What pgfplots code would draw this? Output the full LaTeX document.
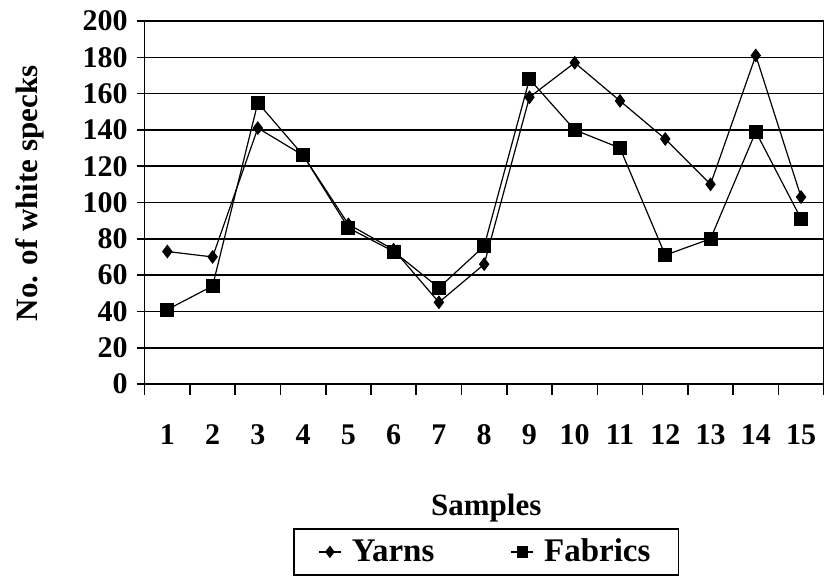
\documentclass[border=0pt]{standalone}
\usepackage{fontspec}
\setmainfont{Liberation Serif}
\usepackage{pgfplots}
\pgfplotsset{compat=1.18}
\begin{document}
\begin{tikzpicture}
\begin{axis}[
  at={(0,0)}, anchor=south west,
  scale only axis=true,
  width=339.5pt, height=181.5pt,
  xmin=0.5, xmax=15.5,
  ymin=0, ymax=200,
  ytick={0,20,...,200},
  xtick={1,...,15},
  major x tick style={draw=none},
  minor xtick={0.5,1.5,...,15.5},
  tick align=outside,
  tick pos=left,
  major tick length=4pt,
  minor tick length=5.5pt,
  tick style={black, line width=0.8pt},
  ymajorgrids=true,
  grid style={black, line width=0.8pt},
  axis line style={black, line width=0.8pt},
  /pgf/number format/assume math mode=true,
  tick label style={font=\fontsize{15}{18}\selectfont\bfseries},
  xticklabel style={yshift=-12.5pt, text height=10pt, text depth=0pt},
  yticklabel style={xshift=-1pt},
  label style={font=\fontsize{15.5}{18}\selectfont\bfseries},
  xlabel={Samples},
  xlabel style={at={(axis description cs:0.503,-0.343)}, anchor=center},
  ylabel={No. of white specks},
  ylabel style={at={(axis description cs:-0.169,0.525)}, anchor=center},
  legend style={at={(axis description cs:0.503,-0.397)}, anchor=north,
    font=\fontsize{16.5}{19}\selectfont\bfseries, draw=black, line width=0.8pt,
    inner xsep=12pt, inner ysep=3pt},
  legend image code/.code={%
    \draw[#1, line width=0.9pt, mark size=2.4pt, mark repeat=2, mark phase=2] plot coordinates {(0pt,0pt) (5.5pt,0pt) (11pt,0pt)};},
  legend columns=2,
  legend cell align=left,
  /tikz/every odd column/.append style={column sep=3pt},
  /tikz/every even column/.append style={column sep=36pt},
]
\addplot[black, line width=0.6pt, mark=diamond*, mark size=3pt, mark options={solid, fill=black}]
  coordinates {(1,73) (2,70) (3,141) (4,126) (5,88) (6,74) (7,45) (8,66) (9,158) (10,177) (11,156) (12,135) (13,110) (14,181) (15,103)};
\addlegendentry{Yarns}
\addplot[black, line width=0.6pt, mark=square*, mark size=3.2pt, mark options={solid, fill=black}]
  coordinates {(1,41) (2,54) (3,155) (4,126) (5,86) (6,73) (7,53) (8,76) (9,168) (10,140) (11,130) (12,71) (13,80) (14,139) (15,91)};
\addlegendentry{Fabrics}
\end{axis}
\useasboundingbox (-72.35pt,-97pt) rectangle (340.65pt,192pt);
\end{tikzpicture}
\end{document}
